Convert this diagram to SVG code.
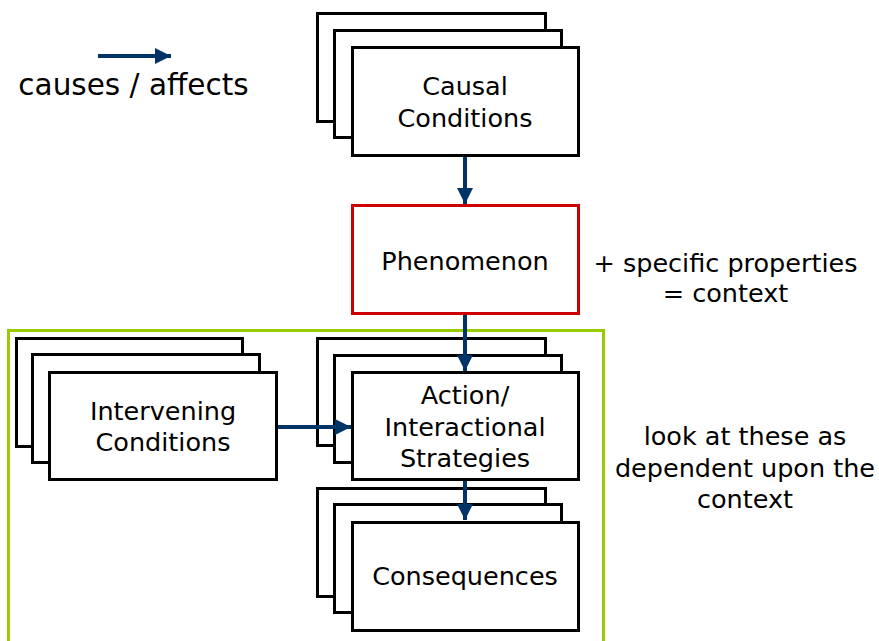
<svg xmlns="http://www.w3.org/2000/svg" width="879" height="641" viewBox="0 0 879 641">
<style>
.box{fill:#fff;stroke:#000;stroke-width:3}
.red{fill:#fff;stroke:#cc0000;stroke-width:3}
.ctx{fill:none;stroke:#99cc00;stroke-width:3}
.t{font-family:"DejaVu Sans",Verdana,sans-serif;font-size:25.5px;fill:#000;text-anchor:middle}
.lg{font-size:29.5px}
.c{stroke:#003366;stroke-width:4;fill:none}
</style>
<defs>
<marker id="ah" markerUnits="userSpaceOnUse" markerWidth="18" markerHeight="16" refX="16" refY="8" orient="auto">
<path d="M0,0 L16,8 L0,16 Z" fill="#003366"/>
</marker>
</defs>
<rect id="context" class="ctx" x="8.5" y="330.5" width="595" height="320"/>
<g id="legend">
<line class="c" x1="98" y1="56" x2="171" y2="56" marker-end="url(#ah)"/>
<text class="t lg" x="133.5" y="95">causes / affects</text>
</g>
<g id="causal">
<rect class="box" x="317.5" y="13.5" width="228" height="108"/>
<rect class="box" x="334.5" y="30.5" width="227" height="107"/>
<rect class="box" x="352.5" y="47.5" width="226" height="108"/>
<text class="t" x="465" y="95">Causal</text>
<text class="t" x="465" y="127">Conditions</text>
</g>
<g id="phenomenon">
<rect class="red" x="352.5" y="205.5" width="226" height="108"/>
<text class="t" x="465" y="270">Phenomenon</text>
</g>
<g id="note1">
<text class="t" x="725.5" y="272">+ specific properties</text>
<text class="t" x="725.5" y="302">= context</text>
</g>
<g id="intervening">
<rect class="box" x="16.5" y="338.5" width="226" height="108"/>
<rect class="box" x="32.5" y="354.5" width="227" height="108"/>
<rect class="box" x="49.5" y="372.5" width="227" height="107"/>
<text class="t" x="163" y="420">Intervening</text>
<text class="t" x="163" y="451">Conditions</text>
</g>
<g id="action">
<rect class="box" x="317.5" y="338.5" width="228" height="107"/>
<rect class="box" x="334.5" y="355.5" width="227" height="107"/>
<rect class="box" x="352.5" y="372.5" width="226" height="107"/>
<text class="t" x="465" y="404">Action/</text>
<text class="t" x="465" y="436">Interactional</text>
<text class="t" x="465" y="467">Strategies</text>
</g>
<g id="consequences">
<rect class="box" x="317.5" y="488.5" width="228" height="108"/>
<rect class="box" x="334.5" y="504.5" width="227" height="108"/>
<rect class="box" x="352.5" y="522.5" width="226" height="108"/>
<text class="t" x="465" y="585">Consequences</text>
</g>
<g id="note2">
<text class="t" x="745" y="445">look at these as</text>
<text class="t" x="745" y="477">dependent upon the</text>
<text class="t" x="745" y="508">context</text>
</g>
<g id="connectors">
<line class="c" x1="465" y1="157" x2="465" y2="204" marker-end="url(#ah)"/>
<line class="c" x1="465" y1="315" x2="465" y2="371" marker-end="url(#ah)"/>
<line class="c" x1="278" y1="427" x2="351" y2="427" marker-end="url(#ah)"/>
<line class="c" x1="465" y1="481" x2="465" y2="520" marker-end="url(#ah)"/>
</g>
</svg>
